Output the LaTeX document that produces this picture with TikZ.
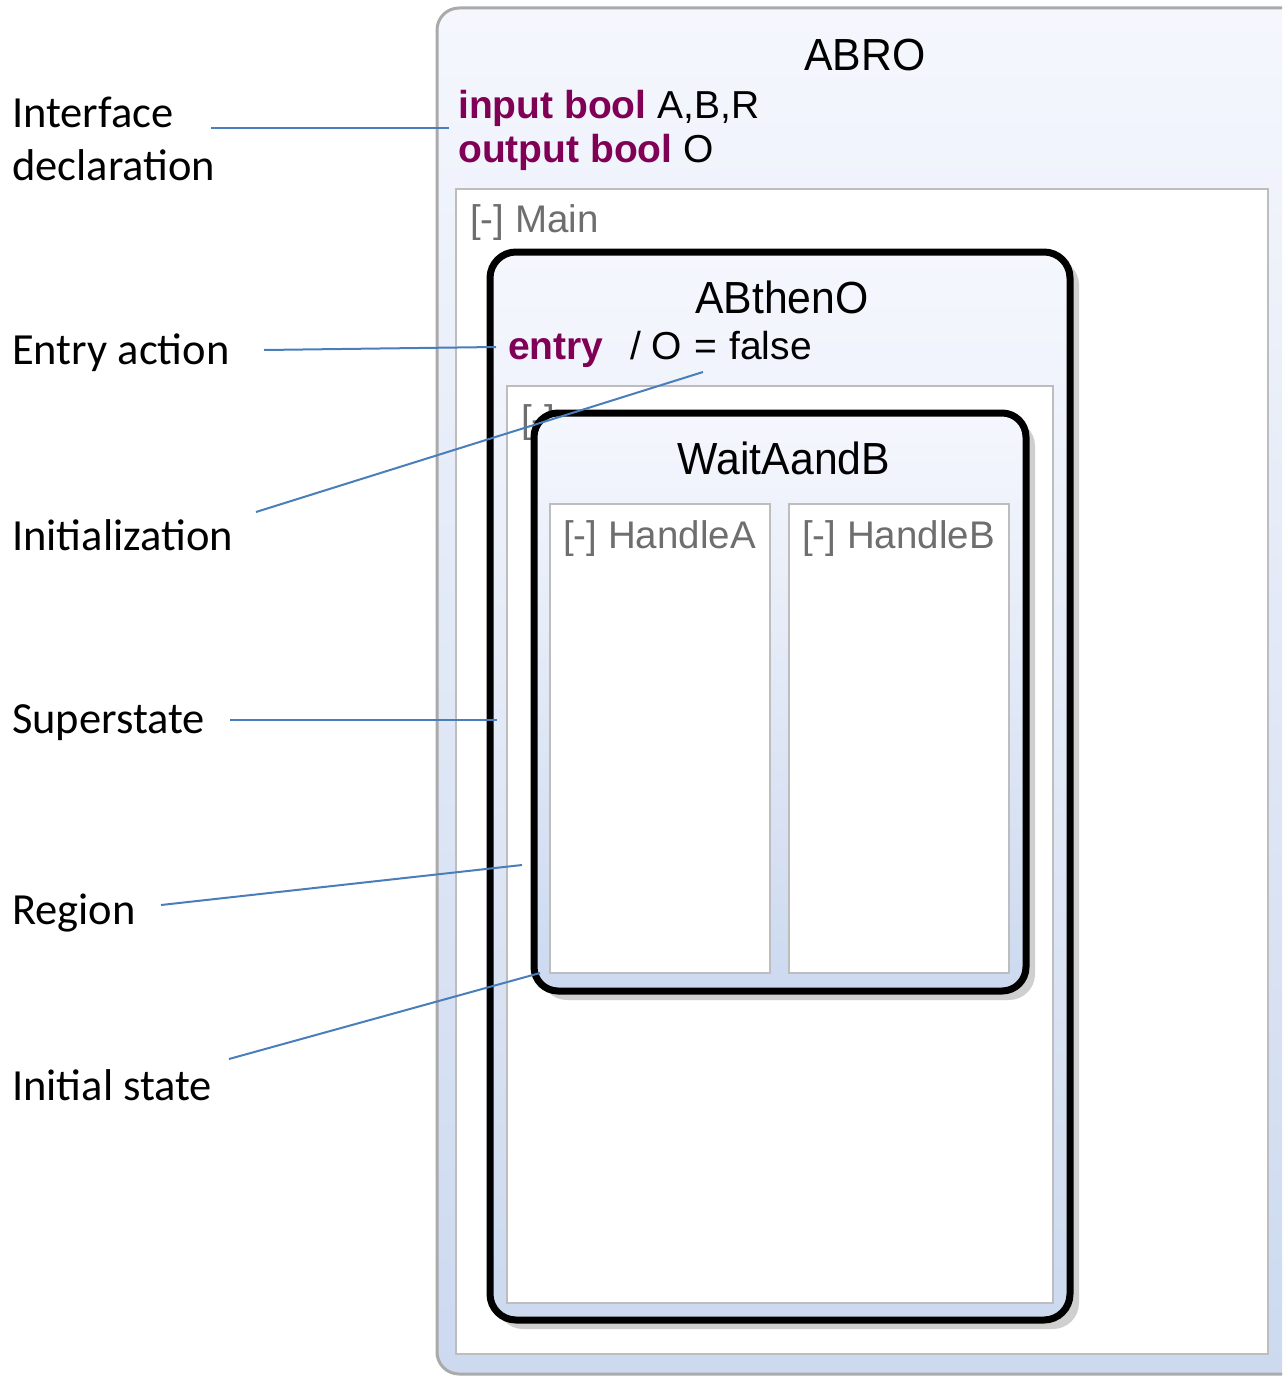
\documentclass[tikz,border=0pt]{standalone}
\usepackage{fontspec}
\setmainfont{Liberation Sans}
\newfontfamily\notefont{Carlito}
\newfontfamily\titlefont[FakeStretch=0.95]{Liberation Sans}
\definecolor{kw}{HTML}{7F0055}
\definecolor{grayTxt}{HTML}{6E6E6E}
\definecolor{regionLine}{HTML}{BDBDBD}
\definecolor{stateTop}{HTML}{F5F7FD}
\definecolor{stateBot}{HTML}{CCD9EF}
\definecolor{leader}{HTML}{4A7EBB}
\definecolor{shadowGray}{HTML}{CFCFCF}
\tikzset{
  statebox/.style={line width=7pt, draw=black, rounded corners=26pt, top color=stateTop, bottom color=stateBot},
  stateshadow/.style={fill=shadowGray, rounded corners=26pt},
  regionbox/.style={draw=regionLine, line width=2.5pt, fill=white},
  leaderline/.style={draw=leader, line width=2pt},
  note/.style={font=\notefont\fontsize{44.5}{53}\selectfont, anchor=base west, inner sep=0pt, align=left},
  title/.style={font=\titlefont\fontsize{45}{50}\selectfont, anchor=base, inner sep=0pt},
  decl/.style={font=\fontsize{39}{44}\selectfont, anchor=base west, inner sep=0pt},
  regname/.style={font=\fontsize{38.5}{42}\selectfont, text=grayTxt, anchor=base west, inner sep=0pt}
}
\begin{document}
\begin{tikzpicture}[x=1pt,y=-1pt]
\useasboundingbox (0,0) rectangle (1282,1378);
\begin{scope}
\clip (0,0) rectangle (1282,1378);
% top-level state ABRO
\draw[draw=regionLine!90!black, line width=3pt, rounded corners=22pt, top color=stateTop, bottom color=stateBot]
  (437,8) rectangle (1310,1374);
\end{scope}
\node[title] (abro) at (865,71) {ABRO};
\node[decl] (inp) at (458,118) {\textcolor{kw}{\bfseries input bool} A,B,R};
\node[decl] (outp) at (458,162) {\textcolor{kw}{\bfseries output bool} O};

% region Main
\draw[regionbox] (456,189) rectangle (1268,1354);
\node[regname] (main) at (470,232) {[-] Main};

% superstate ABthenO
\fill[stateshadow] (497,259) rectangle (1079,1329);
\draw[statebox] (490,252) rectangle (1070,1320);
\node[title] (abtheno) at (782,313) {ABthenO};
\node[decl] (entry) at (508,359) {\textcolor{kw}{\bfseries entry}\hspace{0.68em}/ O\hspace{0.33em}=\hspace{0.3em}false};

% inner region of ABthenO
\draw[regionbox] (507,386) rectangle (1053,1303);
\node[regname] (inner) at (521,432) {[-]};

% initial state WaitAandB
\fill[stateshadow] (541,420) rectangle (1035,1000);
\draw[statebox, rounded corners=24pt] (534,413) rectangle (1026,991);
\node[title] (wait) at (784,474) {WaitAandB};
\draw[regionbox] (550,504) rectangle (770,973);
\node[regname] (ha) at (563,548) {[-] HandleA};
\draw[regionbox] (789,504) rectangle (1009,973);
\node[regname] (hb) at (802,548) {[-] HandleB};

% explanatory labels
\node[note] (lifc) at (12,180) {Interface\\declaration};
\node[note] (lentry) at (12,364) {Entry action};
\node[note] (linit) at (12,550) {Initialization};
\node[note] (lsuper) at (12,733) {Superstate};
\node[note] (lregion) at (12,924) {Region};
\node[note] (linitst) at (12,1100) {Initial state};

% leader line end points
\coordinate (ifcA) at (211,128);   \coordinate (ifcB) at (449,128);
\coordinate (entA) at (264,350);   \coordinate (entB) at (496,347);
\coordinate (iniA) at (256,512);   \coordinate (iniB) at (703,372);
\coordinate (supA) at (230,720);   \coordinate (supB) at (497,720);
\coordinate (regA) at (161,905);   \coordinate (regB) at (522,865);
\coordinate (istA) at (229,1059);  \coordinate (istB) at (540,973);

\draw[leaderline] (ifcA) -- (ifcB);
\draw[leaderline] (entA) -- (entB);
\draw[leaderline] (iniA) -- (iniB);
\draw[leaderline] (supA) -- (supB);
\draw[leaderline] (regA) -- (regB);
\draw[leaderline] (istA) -- (istB);
\end{tikzpicture}
\end{document}
